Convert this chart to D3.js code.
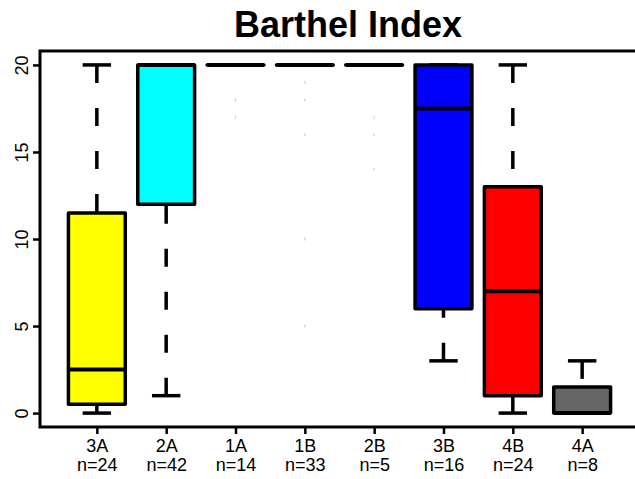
<!DOCTYPE html>
<html>
<head>
<meta charset="utf-8">
<script src="https://cdn.jsdelivr.net/npm/d3@7"></script>
<style>
  body { margin: 0; background: #fff; }
  text { font-family: "Liberation Sans", Arial, sans-serif; fill: #000; }
</style>
</head>
<body>
<svg id="main-canvas" width="635" height="479"></svg>
<script>
// 数据
var categories = ["3A", "2A", "1A", "1B", "2B", "3B", "4B", "4A"]
var counts = [24, 42, 14, 33, 5, 16, 24, 8]
var whiskerLow = [0, 1, 20, 20, 20, 3, 0, 0]
var q1 = [0.5, 12, 20, 20, 20, 6, 1, 0]
var medians = [2.5, 20, 20, 20, 20, 17.5, 7, 0]
var q3 = [11.5, 20, 20, 20, 20, 20, 13, 1.5]
var whiskerHigh = [20, 20, 20, 20, 20, 20, 20, 3]
var outliers = [[], [], [18, 17], [19, 18, 16, 10, 5], [17, 16, 14], [], [], []]
var yTicks = [0, 5, 10, 15, 20]
var fills = ["#ffff00", "#00ffff", "#ffffff", "#ffffff", "#ffffff", "#0000ff", "#ff0000", "#666666"]

var boxes = categories.map(function (c, i) {
  return {
    name: c, n: counts[i], lo: whiskerLow[i], q1: q1[i], med: medians[i],
    q3: q3[i], hi: whiskerHigh[i], out: outliers[i], fill: fills[i]
  }
})

var svg = d3.select("#main-canvas")

// 绘图区域（注意 top 是 window 的保留名）
var plotLeft = 40, plotRight = 639, plotTop = 51, plotBottom = 427

var x = d3.scalePoint()
  .domain(categories)
  .range([plotLeft, plotRight])
  .padding(0.82)

var y = d3.scaleLinear()
  .domain([-0.8, 20.8])
  .range([plotBottom, plotTop])

var boxW = x.step() * 0.82
var capW = boxW / 2

// 标题
svg.append("text")
   .attr("x", 348)
   .attr("y", 37)
   .attr("text-anchor", "middle")
   .attr("font-size", 36)
   .attr("font-weight", "bold")
   .text("Barthel Index")

var g = svg.append("g")

var box = g.selectAll(".box")
  .data(boxes)
  .enter()
  .append("g")
  .attr("class", "box")
  .attr("transform", function (d) { return "translate(" + x(d.name) + ",0)" })

// 须线（从端点画向箱体）
box.append("line")
   .attr("x1", 0).attr("x2", 0)
   .attr("y1", function (d) { return y(d.hi) })
   .attr("y2", function (d) { return y(d.q3) })
   .attr("stroke", "#000")
   .attr("stroke-width", 3.5)
   .attr("stroke-dasharray", "18,25")

box.append("line")
   .attr("x1", 0).attr("x2", 0)
   .attr("y1", function (d) { return y(d.lo) })
   .attr("y2", function (d) { return y(d.q1) })
   .attr("stroke", "#000")
   .attr("stroke-width", 3.5)
   .attr("stroke-dasharray", "18,25")

// 须线端帽
box.append("line")
   .attr("x1", -capW / 2).attr("x2", capW / 2)
   .attr("y1", function (d) { return y(d.hi) })
   .attr("y2", function (d) { return y(d.hi) })
   .attr("stroke", "#000")
   .attr("stroke-width", 3.5)

box.append("line")
   .attr("x1", -capW / 2).attr("x2", capW / 2)
   .attr("y1", function (d) { return y(d.lo) })
   .attr("y2", function (d) { return y(d.lo) })
   .attr("stroke", "#000")
   .attr("stroke-width", 3.5)

// 箱体（用 path，高度为 0 时也能画出来）
box.append("path")
   .attr("d", function (d) {
     return "M" + (-boxW / 2) + "," + y(d.q3) + "H" + (boxW / 2) +
            "V" + y(d.q1) + "H" + (-boxW / 2) + "Z"
   })
   .attr("fill", function (d) { return d.fill })
   .attr("stroke", "#000")
   .attr("stroke-width", 3.5)
   .attr("stroke-linejoin", "round")

// 中位数
box.append("line")
   .attr("x1", -boxW / 2).attr("x2", boxW / 2)
   .attr("y1", function (d) { return y(d.med) })
   .attr("y2", function (d) { return y(d.med) })
   .attr("stroke", "#000")
   .attr("stroke-width", 4)

// 离群点（原图里很淡）
box.selectAll(".out")
   .data(function (d) { return d.out })
   .enter()
   .append("rect")
   .attr("class", "out")
   .attr("x", -0.6)
   .attr("y", function (v) { return y(v) - 1.5 })
   .attr("width", 1.2)
   .attr("height", 3)
   .attr("fill", "#d0d0d0")

// 边框
svg.append("rect")
   .attr("x", plotLeft)
   .attr("y", plotTop)
   .attr("width", plotRight - plotLeft)
   .attr("height", plotBottom - plotTop)
   .attr("fill", "none")
   .attr("stroke", "#000")
   .attr("stroke-width", 3)

// y 轴
var yAxis = svg.append("g")
  .attr("transform", "translate(" + plotLeft + ",0)")
  .call(d3.axisLeft(y).tickValues(yTicks).tickSize(7).tickFormat(d3.format("d")))

yAxis.select(".domain").remove()
yAxis.selectAll(".tick line").attr("stroke", "#000").attr("stroke-width", 2.5)
yAxis.selectAll(".tick text")
     .attr("x", null).attr("dy", null)
     .attr("font-size", 18)
     .attr("text-anchor", "middle")
     .attr("transform", "translate(-12,0) rotate(-90)")

// x 轴
var xAxis = svg.append("g")
  .attr("transform", "translate(0," + plotBottom + ")")
  .call(d3.axisBottom(x).tickSize(7).tickFormat(""))

xAxis.select(".domain").remove()
xAxis.selectAll(".tick line").attr("stroke", "#000").attr("stroke-width", 2.5)

var labels = xAxis.selectAll(".tick")
  .append("text")
  .attr("text-anchor", "middle")
  .attr("font-size", 18)

labels.append("tspan")
      .attr("x", 0)
      .attr("y", 25)
      .text(function (d) { return d })

labels.append("tspan")
      .attr("x", 0)
      .attr("y", 44)
      .text(function (d) { return "n=" + counts[categories.indexOf(d)] })
</script>
</body>
</html>
